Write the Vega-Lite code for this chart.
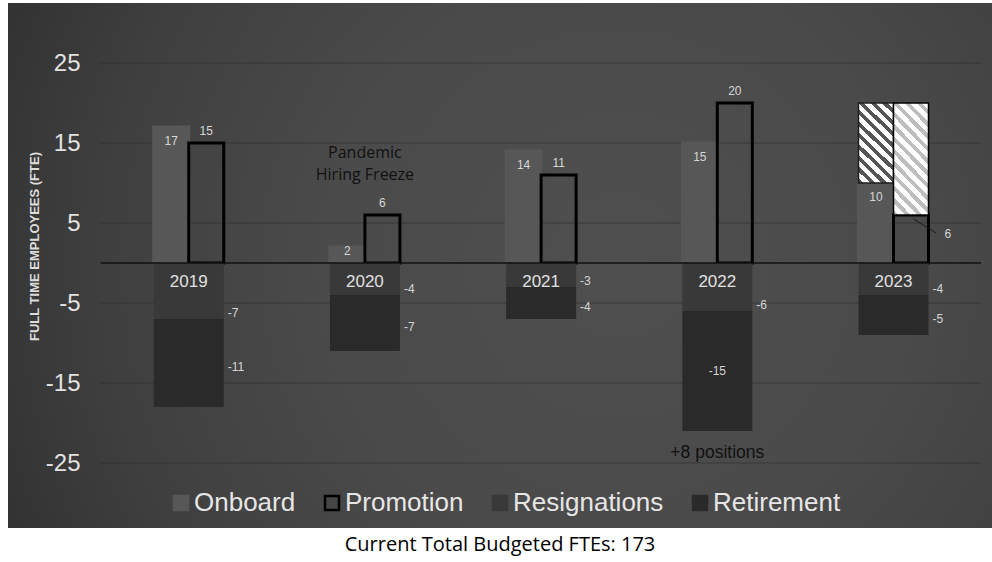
{
  "$schema": "https://vega.github.io/schema/vega-lite/v6.json",
  "width": 984,
  "height": 525,
  "autosize": {"type": "none"},
  "padding": {"left": 8, "top": 3, "right": 0, "bottom": 34},
  "background": "#ffffff",
  "config": {
    "font": "Liberation Sans",
    "view": {
      "stroke": null,
      "fill": {"gradient": "radial", "x1": 0.62, "y1": 0.5, "r1": 0, "x2": 0.62, "y2": 0.5, "r2": 0.75,
        "stops": [{"offset": 0, "color": "#4f4f4f"}, {"offset": 0.4, "color": "#4a4a4a"}, {"offset": 0.7, "color": "#3f3f3f"}, {"offset": 1, "color": "#2c2c2c"}]}
    }
  },
  "title": {
    "text": "Current Total Budgeted FTEs: 173",
    "orient": "bottom",
    "anchor": "middle",
    "frame": "group",
    "font": "Open Sans",
    "fontSize": 20,
    "fontWeight": "normal",
    "color": "#000000",
    "baseline": "top",
    "offset": 7
  },
  "datasets": {
    "fte": [
      {"year": "2019", "series": "Onboard", "value": 17},
      {"year": "2019", "series": "Promotion", "value": 15},
      {"year": "2019", "series": "Resignations", "value": -7},
      {"year": "2019", "series": "Retirement", "value": -11},
      {"year": "2020", "series": "Onboard", "value": 2},
      {"year": "2020", "series": "Promotion", "value": 6},
      {"year": "2020", "series": "Resignations", "value": -4},
      {"year": "2020", "series": "Retirement", "value": -7},
      {"year": "2021", "series": "Onboard", "value": 14},
      {"year": "2021", "series": "Promotion", "value": 11},
      {"year": "2021", "series": "Resignations", "value": -3},
      {"year": "2021", "series": "Retirement", "value": -4},
      {"year": "2022", "series": "Onboard", "value": 15},
      {"year": "2022", "series": "Promotion", "value": 20},
      {"year": "2022", "series": "Resignations", "value": -6},
      {"year": "2022", "series": "Retirement", "value": -15},
      {"year": "2023", "series": "Onboard", "value": 10},
      {"year": "2023", "series": "Promotion", "value": 6},
      {"year": "2023", "series": "Resignations", "value": -4},
      {"year": "2023", "series": "Retirement", "value": -5}
    ],
    "planned": [
      {"year": "2023", "series": "Onboard", "start": 10, "end": 20},
      {"year": "2023", "series": "Promotion", "start": 6, "end": 20}
    ],
    "grid": [{"v": 25}, {"v": 15}, {"v": 5}, {"v": -5}, {"v": -15}, {"v": -25}]
  },
  "layer": [
    {
      "data": {"name": "grid"},
      "mark": {"type": "rule", "color": "#2c2c2c", "strokeWidth": 1, "opacity": 0.6},
      "encoding": {
        "x": {"datum": "2019", "bandPosition": -0.757, "type": "nominal",
          "scale": {"type": "band", "domain": ["2019", "2020", "2021", "2022", "2023"], "paddingInner": 0.6027, "paddingOuter": 0.5937, "align": 0.6965},
          "axis": null},
        "x2": {"datum": "2023", "bandPosition": 1.75},
        "y": {"field": "v", "type": "quantitative",
          "scale": {"domain": [-33.125, 32.5], "nice": false, "zero": false},
          "axis": {
            "values": [25, 15, 5, -5, -15, -25],
            "orient": "left", "offset": -72, "ticks": false, "tickSize": 0, "domain": false, "grid": false,
            "labelFontSize": 24, "labelColor": "#e2e2e2", "labelPadding": 0, "labelFont": "Liberation Sans",
            "labelExpr": "'' + datum.value",
            "title": "FULL TIME EMPLOYEES (FTE)", "titleFont": "Liberation Sans", "titleFontSize": 13, "titleFontWeight": "bold",
            "titleColor": "#dcdcdc", "titleAngle": -90, "titleX": -46, "titleY": 243, "titleAlign": "center", "titleBaseline": "middle"
          }}
      }
    },
    {
      "data": {"name": "fte"},
      "transform": [{"filter": "datum.value > 0"}],
      "mark": {"type": "bar", "strokeWidth": 3},
      "encoding": {
        "x": {"field": "year", "type": "nominal", "axis": null},
        "xOffset": {"field": "series", "type": "nominal", "scale": {"domain": ["Onboard", "Promotion"], "paddingInner": 0, "paddingOuter": 0}},
        "y": {"field": "value", "type": "quantitative"},
        "color": {"field": "series", "type": "nominal",
          "scale": {"domain": ["Onboard", "Promotion", "Resignations", "Retirement"], "range": ["#575757", "transparent", "#393939", "#2a2a2a"]},
          "legend": {"orient": "none", "legendX": 160, "legendY": 487, "direction": "horizontal", "columns": 4, "title": null,
            "symbolType": "square", "symbolSize": 196, "symbolStrokeWidth": 2.5, "labelFontSize": 26, "labelColor": "#e6e6e6",
            "labelFont": "Liberation Sans", "columnPadding": 23, "labelOffset": 0, "padding": 0}},
        "stroke": {"field": "series", "type": "nominal",
          "scale": {"domain": ["Onboard", "Promotion", "Resignations", "Retirement"], "range": ["#575757", "#000000", "#393939", "#2a2a2a"]},
          "legend": {"orient": "none", "legendX": 160, "legendY": 487, "direction": "horizontal", "columns": 4, "title": null,
            "symbolType": "square", "symbolSize": 196, "symbolStrokeWidth": 2.5, "labelFontSize": 26, "labelColor": "#e6e6e6",
            "labelFont": "Liberation Sans", "columnPadding": 23, "labelOffset": 0, "padding": 0}}
      }
    },
    {
      "data": {"name": "fte"},
      "transform": [{"filter": "datum.value < 0"}],
      "mark": {"type": "bar"},
      "encoding": {
        "x": {"field": "year", "type": "nominal", "axis": null},
        "y": {"field": "value", "type": "quantitative"},
        "color": {"field": "series", "type": "nominal"},
        "order": {"field": "series", "type": "nominal", "sort": "ascending"}
      }
    },
    {
      "data": {"name": "planned"},
      "transform": [{"filter": "datum.series === 'Onboard'"}],
      "mark": {"type": "bar", "stroke": "#1e1e1e", "strokeWidth": 1.5,
        "fill": {"gradient": "linear", "x1": 0, "y1": 1, "x2": 0.514, "y2": -0.208,
          "stops": [
            {"offset": 0, "color": "#555555"}, {"offset": 0.045, "color": "#555555"}, {"offset": 0.045, "color": "#ffffff"}, {"offset": 0.1, "color": "#ffffff"},
            {"offset": 0.1, "color": "#555555"}, {"offset": 0.145, "color": "#555555"}, {"offset": 0.145, "color": "#ffffff"}, {"offset": 0.2, "color": "#ffffff"},
            {"offset": 0.2, "color": "#555555"}, {"offset": 0.245, "color": "#555555"}, {"offset": 0.245, "color": "#ffffff"}, {"offset": 0.3, "color": "#ffffff"},
            {"offset": 0.3, "color": "#555555"}, {"offset": 0.345, "color": "#555555"}, {"offset": 0.345, "color": "#ffffff"}, {"offset": 0.4, "color": "#ffffff"},
            {"offset": 0.4, "color": "#555555"}, {"offset": 0.445, "color": "#555555"}, {"offset": 0.445, "color": "#ffffff"}, {"offset": 0.5, "color": "#ffffff"},
            {"offset": 0.5, "color": "#555555"}, {"offset": 0.545, "color": "#555555"}, {"offset": 0.545, "color": "#ffffff"}, {"offset": 0.6, "color": "#ffffff"},
            {"offset": 0.6, "color": "#555555"}, {"offset": 0.645, "color": "#555555"}, {"offset": 0.645, "color": "#ffffff"}, {"offset": 0.7, "color": "#ffffff"},
            {"offset": 0.7, "color": "#555555"}, {"offset": 0.745, "color": "#555555"}, {"offset": 0.745, "color": "#ffffff"}, {"offset": 0.8, "color": "#ffffff"},
            {"offset": 0.8, "color": "#555555"}, {"offset": 0.845, "color": "#555555"}, {"offset": 0.845, "color": "#ffffff"}, {"offset": 0.9, "color": "#ffffff"},
            {"offset": 0.9, "color": "#555555"}, {"offset": 0.945, "color": "#555555"}, {"offset": 0.945, "color": "#ffffff"}, {"offset": 1, "color": "#ffffff"}
          ]}},
      "encoding": {
        "x": {"field": "year", "type": "nominal", "axis": null},
        "xOffset": {"field": "series", "type": "nominal"},
        "y": {"field": "start", "type": "quantitative"},
        "y2": {"field": "end"}
      }
    },
    {
      "data": {"name": "planned"},
      "transform": [{"filter": "datum.series === 'Promotion'"}],
      "mark": {"type": "bar", "stroke": "#000000", "strokeWidth": 1.5,
        "fill": {"gradient": "linear", "x1": 0, "y1": 1, "x2": 0.385, "y2": -0.197,
          "stops": [
            {"offset": 0, "color": "#bdbdbd"}, {"offset": 0.0375, "color": "#bdbdbd"}, {"offset": 0.0375, "color": "#ffffff"}, {"offset": 0.0833, "color": "#ffffff"},
            {"offset": 0.0833, "color": "#bdbdbd"}, {"offset": 0.1208, "color": "#bdbdbd"}, {"offset": 0.1208, "color": "#ffffff"}, {"offset": 0.1667, "color": "#ffffff"},
            {"offset": 0.1667, "color": "#bdbdbd"}, {"offset": 0.2042, "color": "#bdbdbd"}, {"offset": 0.2042, "color": "#ffffff"}, {"offset": 0.25, "color": "#ffffff"},
            {"offset": 0.25, "color": "#bdbdbd"}, {"offset": 0.2875, "color": "#bdbdbd"}, {"offset": 0.2875, "color": "#ffffff"}, {"offset": 0.3333, "color": "#ffffff"},
            {"offset": 0.3333, "color": "#bdbdbd"}, {"offset": 0.3708, "color": "#bdbdbd"}, {"offset": 0.3708, "color": "#ffffff"}, {"offset": 0.4167, "color": "#ffffff"},
            {"offset": 0.4167, "color": "#bdbdbd"}, {"offset": 0.4542, "color": "#bdbdbd"}, {"offset": 0.4542, "color": "#ffffff"}, {"offset": 0.5, "color": "#ffffff"},
            {"offset": 0.5, "color": "#bdbdbd"}, {"offset": 0.5375, "color": "#bdbdbd"}, {"offset": 0.5375, "color": "#ffffff"}, {"offset": 0.5833, "color": "#ffffff"},
            {"offset": 0.5833, "color": "#bdbdbd"}, {"offset": 0.6208, "color": "#bdbdbd"}, {"offset": 0.6208, "color": "#ffffff"}, {"offset": 0.6667, "color": "#ffffff"},
            {"offset": 0.6667, "color": "#bdbdbd"}, {"offset": 0.7042, "color": "#bdbdbd"}, {"offset": 0.7042, "color": "#ffffff"}, {"offset": 0.75, "color": "#ffffff"},
            {"offset": 0.75, "color": "#bdbdbd"}, {"offset": 0.7875, "color": "#bdbdbd"}, {"offset": 0.7875, "color": "#ffffff"}, {"offset": 0.8333, "color": "#ffffff"},
            {"offset": 0.8333, "color": "#bdbdbd"}, {"offset": 0.8708, "color": "#bdbdbd"}, {"offset": 0.8708, "color": "#ffffff"}, {"offset": 0.9167, "color": "#ffffff"},
            {"offset": 0.9167, "color": "#bdbdbd"}, {"offset": 0.9542, "color": "#bdbdbd"}, {"offset": 0.9542, "color": "#ffffff"}, {"offset": 1, "color": "#ffffff"}
          ]}},
      "encoding": {
        "x": {"field": "year", "type": "nominal", "axis": null},
        "xOffset": {"field": "series", "type": "nominal"},
        "y": {"field": "start", "type": "quantitative"},
        "y2": {"field": "end"}
      }
    },
    {
      "data": {"values": [{"v": 0}]},
      "mark": {"type": "rule", "color": "#111111", "strokeWidth": 1.5},
      "encoding": {
        "x": {"datum": "2019", "bandPosition": -0.757, "type": "nominal"},
        "x2": {"datum": "2023", "bandPosition": 1.75},
        "y": {"field": "v", "type": "quantitative"}
      }
    },
    {
      "data": {"values": [{"year": "2023"}]},
      "mark": {"type": "rule", "color": "#1a1a1a", "strokeWidth": 1},
      "encoding": {
        "x": {"datum": "2023", "bandPosition": 0.786, "type": "nominal"},
        "x2": {"datum": "2023", "bandPosition": 1.11},
        "y": {"datum": 5.5, "type": "quantitative"},
        "y2": {"datum": 3.75}
      }
    },
    {
      "data": {"name": "fte"},
      "transform": [{"filter": "datum.series === 'Onboard'"}],
      "mark": {"type": "text", "fontSize": 17, "color": "#e0e0e0", "baseline": "middle", "dy": 18.7},
      "encoding": {
        "x": {"field": "year", "type": "nominal"},
        "y": {"datum": 0, "type": "quantitative"},
        "text": {"field": "year", "type": "nominal"}
      }
    },
    {
      "data": {"name": "fte"},
      "transform": [{"filter": "datum.series === 'Onboard' && datum.value >= 5"}],
      "mark": {"type": "text", "fontSize": 12, "color": "#d6d6d6", "baseline": "middle", "dy": 14},
      "encoding": {
        "x": {"field": "year", "type": "nominal"},
        "xOffset": {"field": "series", "type": "nominal"},
        "y": {"field": "value", "type": "quantitative"},
        "text": {"field": "value", "type": "nominal"}
      }
    },
    {
      "data": {"name": "fte"},
      "transform": [{"filter": "datum.series === 'Onboard' && datum.value < 5"}],
      "mark": {"type": "text", "fontSize": 12, "color": "#d6d6d6", "baseline": "middle", "dy": 4},
      "encoding": {
        "x": {"field": "year", "type": "nominal"},
        "xOffset": {"field": "series", "type": "nominal"},
        "y": {"field": "value", "type": "quantitative"},
        "text": {"field": "value", "type": "nominal"}
      }
    },
    {
      "data": {"name": "fte"},
      "transform": [{"filter": "datum.series === 'Promotion' && datum.year !== '2023'"}],
      "mark": {"type": "text", "fontSize": 12, "color": "#d6d6d6", "baseline": "middle", "dy": -12},
      "encoding": {
        "x": {"field": "year", "type": "nominal"},
        "xOffset": {"field": "series", "type": "nominal"},
        "y": {"field": "value", "type": "quantitative"},
        "text": {"field": "value", "type": "nominal"}
      }
    },
    {
      "data": {"name": "fte"},
      "transform": [{"filter": "datum.series === 'Promotion' && datum.year === '2023'"}],
      "mark": {"type": "text", "fontSize": 12, "color": "#d6d6d6", "baseline": "middle", "align": "left", "dx": 16, "dy": 19},
      "encoding": {
        "x": {"field": "year", "type": "nominal", "bandPosition": 1},
        "y": {"field": "value", "type": "quantitative"},
        "text": {"field": "value", "type": "nominal"}
      }
    },
    {
      "data": {"name": "fte"},
      "transform": [{"filter": "datum.series === 'Resignations'"}],
      "mark": {"type": "text", "fontSize": 12, "color": "#d6d6d6", "baseline": "middle", "align": "left", "dx": 4, "dy": -6},
      "encoding": {
        "x": {"field": "year", "type": "nominal", "bandPosition": 1},
        "y": {"field": "value", "type": "quantitative"},
        "text": {"field": "value", "type": "nominal"}
      }
    },
    {
      "data": {"name": "fte"},
      "transform": [
        {"filter": "datum.value < 0"},
        {"stack": "value", "groupby": ["year"], "sort": [{"field": "series", "order": "ascending"}], "as": ["v0", "v1"]},
        {"filter": "datum.series === 'Retirement' && datum.year !== '2022'"},
        {"fold": ["v0", "v1"], "as": ["k", "pos"]}
      ],
      "mark": {"type": "text", "fontSize": 12, "color": "#d6d6d6", "baseline": "middle", "align": "left", "dx": 4, "dy": 4},
      "encoding": {
        "x": {"field": "year", "type": "nominal", "bandPosition": 1},
        "y": {"field": "pos", "type": "quantitative", "aggregate": "mean"},
        "text": {"field": "value", "type": "nominal"}
      }
    },
    {
      "data": {"name": "fte"},
      "transform": [
        {"filter": "datum.value < 0"},
        {"stack": "value", "groupby": ["year"], "sort": [{"field": "series", "order": "ascending"}], "as": ["v0", "v1"]},
        {"filter": "datum.series === 'Retirement' && datum.year === '2022'"},
        {"fold": ["v0", "v1"], "as": ["k", "pos"]}
      ],
      "mark": {"type": "text", "fontSize": 12, "color": "#d6d6d6", "baseline": "middle", "align": "center"},
      "encoding": {
        "x": {"field": "year", "type": "nominal"},
        "y": {"field": "pos", "type": "quantitative", "aggregate": "mean"},
        "text": {"field": "value", "type": "nominal"}
      }
    },
    {
      "data": {"values": [{"year": "2020", "note": ["Pandemic", "Hiring Freeze"]}]},
      "mark": {"type": "text", "font": "Open Sans", "fontSize": 16, "color": "#111111", "baseline": "middle", "align": "center", "lineHeight": 22},
      "encoding": {
        "x": {"field": "year", "type": "nominal"},
        "y": {"datum": 13.79, "type": "quantitative"},
        "text": {"field": "note", "type": "nominal"}
      }
    },
    {
      "data": {"values": [{"year": "2022", "note": "+8 positions"}]},
      "mark": {"type": "text", "font": "Liberation Sans", "fontSize": 17.5, "color": "#111111", "baseline": "middle", "align": "center"},
      "encoding": {
        "x": {"field": "year", "type": "nominal"},
        "y": {"datum": -23.7, "type": "quantitative"},
        "text": {"field": "note", "type": "nominal"}
      }
    }
  ]
}
